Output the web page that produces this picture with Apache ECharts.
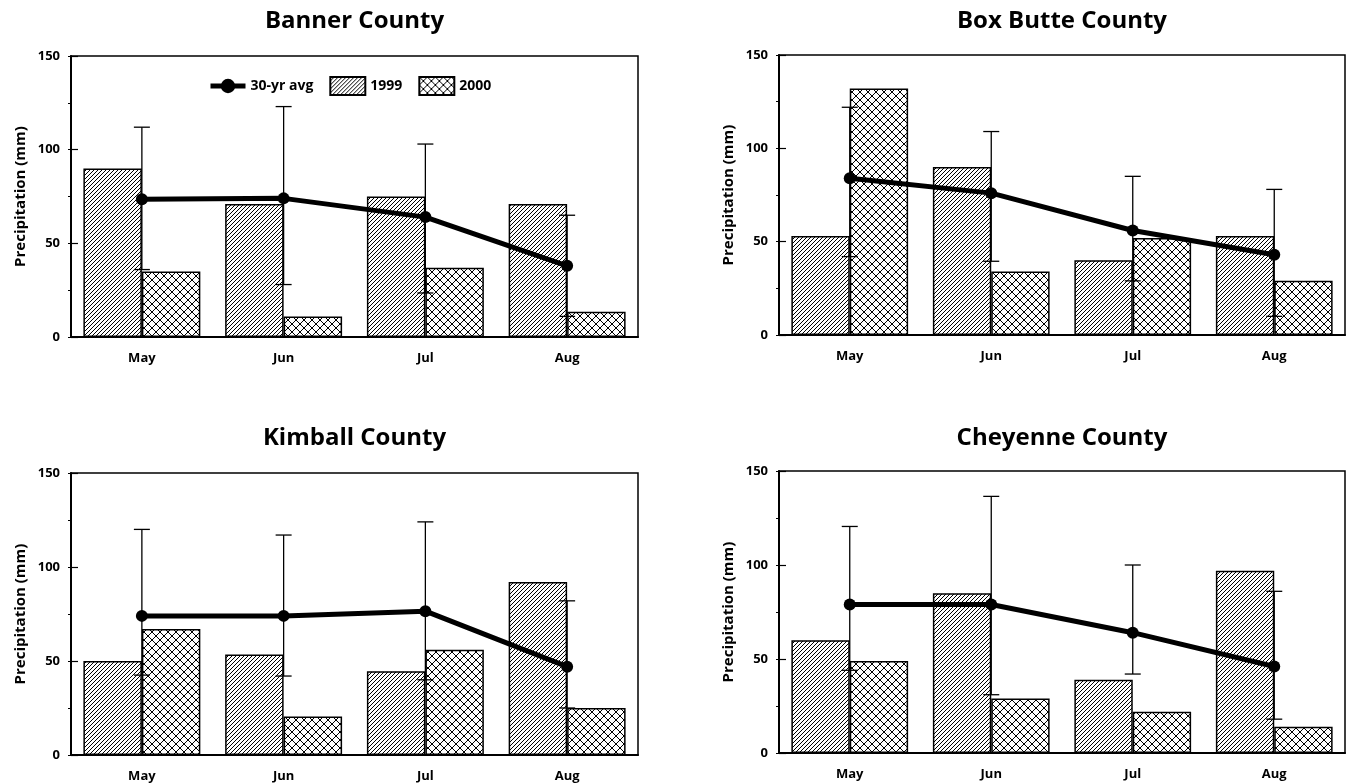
<!DOCTYPE html>
<html>
<head>
<meta charset="utf-8">
<script src="https://cdn.jsdelivr.net/npm/echarts@6/dist/echarts.min.js"></script>
<style>
html,body{margin:0;padding:0;background:#fff;}
#chart{width:1348px;height:784px;}
</style>
</head>
<body>
<div id="chart"></div>
<script>
// ---- data ----
const months = ['May', 'Jun', 'Jul', 'Aug'];
const counties = ['Banner County', 'Box Butte County', 'Kimball County', 'Cheyenne County'];
const seriesNames = ['30-yr avg', '1999', '2000'];
const yTickValues = [0, 50, 100, 150];

const banner1999 = [90, 71, 75, 71];
const banner2000 = [35, 11, 37, 13.5];
const bannerAvg = [73.5, 74, 64, 38];
const bannerErrLow = [36, 28, 23.5, 11];
const bannerErrHigh = [112, 123, 103, 65];

const boxButte1999 = [53, 90, 40, 53];
const boxButte2000 = [132, 34, 52, 29];
const boxButteAvg = [84, 76, 56, 43];
const boxButteErrLow = [42, 39.5, 29, 10];
const boxButteErrHigh = [122, 109, 85, 78];

const kimball1999 = [50, 53.5, 44.5, 92];
const kimball2000 = [67, 20.5, 56, 25];
const kimballAvg = [74, 74, 76.5, 47];
const kimballErrLow = [42.5, 42, 40, 25];
const kimballErrHigh = [120, 117, 124, 82];

const cheyenne1999 = [60, 85, 39, 97];
const cheyenne2000 = [49, 29, 22, 14];
const cheyenneAvg = [79, 79, 64, 46];
const cheyenneErrLow = [44, 31, 42, 18];
const cheyenneErrHigh = [120.5, 136.5, 100, 86];

const panelData = [
  {y1999: banner1999, y2000: banner2000, avg: bannerAvg, lo: bannerErrLow, hi: bannerErrHigh},
  {y1999: boxButte1999, y2000: boxButte2000, avg: boxButteAvg, lo: boxButteErrLow, hi: boxButteErrHigh},
  {y1999: kimball1999, y2000: kimball2000, avg: kimballAvg, lo: kimballErrLow, hi: kimballErrHigh},
  {y1999: cheyenne1999, y2000: cheyenne2000, avg: cheyenneAvg, lo: cheyenneErrLow, hi: cheyenneErrHigh}
];

// ---- layout / style ----
const FONT = '"Open Sans", Lato, sans-serif';
const grids = [
  {left: 71, top: 56, width: 567, height: 281},
  {left: 779, top: 55, width: 566, height: 280},
  {left: 71, top: 473, width: 567, height: 282},
  {left: 779, top: 471, width: 566, height: 282}
];
const titleY = [21, 21, 438, 438];

function makeHatch() {
  const c = document.createElement('canvas');
  c.width = 4; c.height = 4;
  const ctx = c.getContext('2d');
  ctx.fillStyle = '#fff'; ctx.fillRect(0, 0, 4, 4);
  ctx.strokeStyle = '#000'; ctx.lineWidth = 1;
  ctx.beginPath();
  ctx.moveTo(-1, 5); ctx.lineTo(5, -1);
  ctx.moveTo(-1, 1); ctx.lineTo(1, -1);
  ctx.moveTo(3, 5); ctx.lineTo(5, 3);
  ctx.stroke();
  return c;
}
function makeCross() {
  const c = document.createElement('canvas');
  c.width = 8; c.height = 8;
  const ctx = c.getContext('2d');
  ctx.fillStyle = '#fff'; ctx.fillRect(0, 0, 8, 8);
  ctx.strokeStyle = '#000'; ctx.lineWidth = 1;
  ctx.beginPath();
  ctx.moveTo(-1, 9); ctx.lineTo(9, -1);
  ctx.moveTo(-1, -1); ctx.lineTo(9, 9);
  ctx.stroke();
  return c;
}
const hatchPattern = {image: makeHatch(), repeat: 'repeat'};
const crossPattern = {image: makeCross(), repeat: 'repeat'};

const xAxes = [], yAxes = [], series = [], graphics = [];
grids.forEach((g, gi) => {
  xAxes.push({
    type: 'category', gridIndex: gi, data: months, boundaryGap: true,
    axisLine: {lineStyle: {color: '#000', width: 2}},
    axisTick: {alignWithLabel: true, inside: false, length: 8, lineStyle: {color: '#000', width: 1.5}},
    axisLabel: {color: '#000', fontFamily: FONT, fontWeight: 'bold', fontSize: 13, margin: 15},
    splitLine: {show: false}
  });
  // main y axis (labels, inward ticks)
  yAxes.push({
    type: 'value', gridIndex: gi, min: yTickValues[0], max: yTickValues[yTickValues.length - 1], interval: 50,
    name: 'Precipitation (mm)', nameLocation: 'middle', nameGap: 43, nameRotate: 90,
    nameTextStyle: {color: '#000', fontFamily: FONT, fontWeight: 'bold', fontSize: 15},
    axisLine: {show: true, lineStyle: {color: '#000', width: 2}},
    axisTick: {show: true, inside: true, length: 7, lineStyle: {color: '#000', width: 1.2}},
    axisLabel: {color: '#000', fontFamily: FONT, fontWeight: 'bold', fontSize: 13, margin: 11},
    splitLine: {show: false}
  });
  // secondary y axis (small outward ticks every 25)
  yAxes.push({
    type: 'value', gridIndex: gi, position: 'left', min: 0, max: 150, interval: 25,
    axisLine: {show: false},
    axisTick: {show: true, inside: false, length: 3, lineStyle: {color: '#000', width: 1}},
    axisLabel: {show: false},
    splitLine: {show: false}
  });
  const yi = gi * 2;
  const d = panelData[gi];
  series.push({
    name: '1999', type: 'bar', xAxisIndex: gi, yAxisIndex: yi, data: d.y1999,
    barGap: '0%', barCategoryGap: '17.5%', z: 2,
    itemStyle: {color: hatchPattern, borderColor: '#000', borderWidth: 1.5},
    emphasis: {disabled: true}, animation: false
  });
  series.push({
    name: '2000', type: 'bar', xAxisIndex: gi, yAxisIndex: yi, data: d.y2000,
    barGap: '0%', barCategoryGap: '17.5%', z: 2,
    itemStyle: {color: crossPattern, borderColor: '#000', borderWidth: 1.5},
    emphasis: {disabled: true}, animation: false
  });
  series.push({
    name: 'err' + gi, type: 'custom', xAxisIndex: gi, yAxisIndex: yi, z: 3,
    data: months.map((m, i) => [i, d.lo[i], d.hi[i]]),
    encode: {x: 0, y: [1, 2]},
    renderItem: function (params, api) {
      const x = api.value(0);
      const lo = api.coord([x, api.value(1)]);
      const hi = api.coord([x, api.value(2)]);
      const half = 8;
      const st = {stroke: '#000', lineWidth: 1.3};
      return {type: 'group', children: [
        {type: 'line', shape: {x1: lo[0], y1: lo[1], x2: hi[0], y2: hi[1]}, style: st},
        {type: 'line', shape: {x1: hi[0] - half, y1: hi[1], x2: hi[0] + half, y2: hi[1]}, style: st},
        {type: 'line', shape: {x1: lo[0] - half, y1: lo[1], x2: lo[0] + half, y2: lo[1]}, style: st}
      ]};
    },
    animation: false
  });
  series.push({
    name: '30-yr avg', type: 'line', xAxisIndex: gi, yAxisIndex: yi, data: d.avg, z: 4,
    symbol: 'circle', symbolSize: 12,
    lineStyle: {color: '#000', width: 5},
    itemStyle: {color: '#000'},
    emphasis: {disabled: true}, animation: false
  });
  graphics.push({
    type: 'text', x: g.left + g.width / 2, y: titleY[gi],
    style: {text: counties[gi], textAlign: 'center', textVerticalAlign: 'middle',
      font: 'bold 24px ' + FONT, fill: '#000'}
  });
});

const option = {
  backgroundColor: '#fff',
  animation: false,
  grid: grids.map(g => Object.assign({show: true, borderColor: '#000', borderWidth: 1.5, backgroundColor: 'transparent'}, g)),
  xAxis: xAxes,
  yAxis: yAxes,
  series: series,
  graphic: graphics,
  legend: {
    left: 203, top: 71, itemWidth: 35, itemHeight: 18, itemGap: 16,
    data: [
      {name: seriesNames[0], lineStyle: {width: 5, color: '#000'}},
      {name: seriesNames[1], icon: 'rect'},
      {name: seriesNames[2], icon: 'rect'}
    ],
    textStyle: {color: '#000', fontFamily: FONT, fontWeight: 'bold', fontSize: 14},
    selectedMode: false
  }
};

const chart = echarts.init(document.getElementById('chart'), null, {renderer: 'canvas'});
chart.setOption(option);
</script>
</body>
</html>
